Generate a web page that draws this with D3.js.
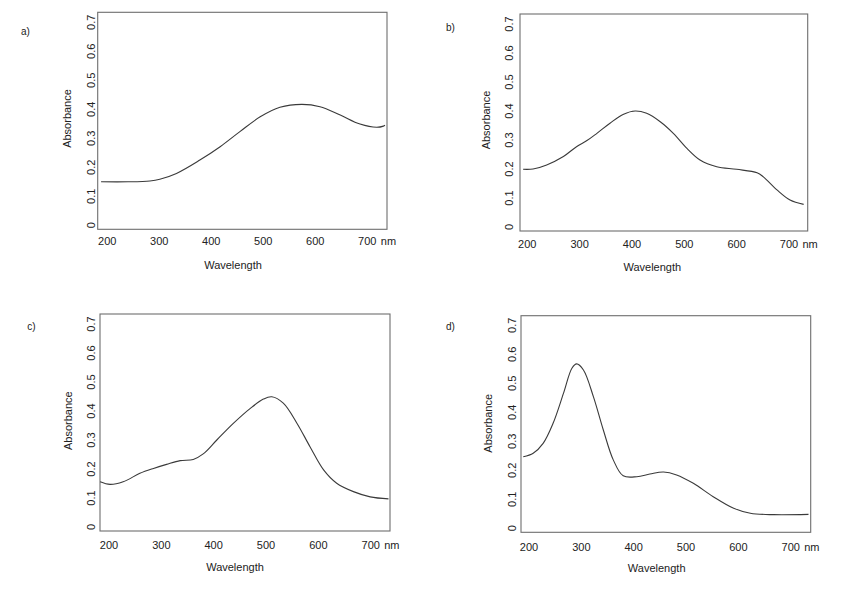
<!DOCTYPE html>
<html>
<head>
<meta charset="utf-8">
<script src="https://cdn.jsdelivr.net/npm/d3@7"></script>
<style>
  body { margin: 0; background: #fff; }
  text { font-family: "Liberation Sans", Arial, Helvetica, sans-serif; fill: #222; }
</style>
</head>
<body>
<svg id="chart" width="856" height="592"></svg>
<script>
// Tick labels
var xTicks = [200, 300, 400, 500, 600, 700];
var yTicks = [0, 0.1, 0.2, 0.3, 0.4, 0.5, 0.6, 0.7];
var panelNames = ["a)", "b)", "c)", "d)"];

// Spectra: wavelength (nm) and absorbance
var waveA = [188, 240, 282, 301, 333, 378, 417, 455, 494, 532, 574, 609, 648, 686, 718, 731, 734];
var absA  = [0.150, 0.150, 0.153, 0.159, 0.179, 0.225, 0.271, 0.323, 0.374, 0.407, 0.417, 0.409, 0.380, 0.349, 0.338, 0.342, 0.345];

var waveB = [192, 211, 237, 269, 294, 314, 333, 358, 384, 406, 428, 454, 479, 505, 530, 562, 600, 639, 651, 677, 702, 728];
var absB  = [0.199, 0.200, 0.214, 0.243, 0.277, 0.298, 0.323, 0.358, 0.389, 0.400, 0.392, 0.363, 0.323, 0.271, 0.231, 0.208, 0.199, 0.187, 0.173, 0.128, 0.093, 0.078];

var waveC = [183, 202, 227, 259, 285, 310, 336, 361, 380, 406, 438, 470, 495, 511, 533, 559, 584, 610, 635, 667, 699, 734];
var absC  = [0.156, 0.147, 0.156, 0.185, 0.202, 0.216, 0.229, 0.233, 0.252, 0.300, 0.358, 0.409, 0.441, 0.449, 0.427, 0.358, 0.277, 0.197, 0.151, 0.122, 0.104, 0.097];

var waveD = [189, 208, 227, 246, 266, 282, 291, 304, 323, 342, 361, 380, 406, 431, 457, 482, 514, 552, 591, 623, 667, 734];
var absD  = [0.247, 0.259, 0.293, 0.362, 0.466, 0.552, 0.567, 0.546, 0.454, 0.339, 0.236, 0.181, 0.178, 0.187, 0.194, 0.184, 0.155, 0.109, 0.069, 0.052, 0.047, 0.048];

var series = [[waveA, absA], [waveB, absB], [waveC, absC], [waveD, absD]];

// Where each panel sits on the page
var layout = [
    {box: [97.7, 12.3, 387, 229.3], x: [107.3, 367.3], y: [225.3, 22.3], yLab: 90.7, xLab: 241, absPos: [67, 118.5], wavePos: [233, 265], tag: [21, 31]},
    {box: [520, 14, 807.7, 231], x: [527.3, 789], y: [227, 24], yLab: 509.3, xLab: 244, absPos: [486, 120], wavePos: [652.3, 266.7], tag: [446, 27.5]},
    {box: [100, 314, 390, 531], x: [109, 370.7], y: [527, 324], yLab: 90.7, xLab: 545, absPos: [68.3, 420.7], wavePos: [235, 566.7], tag: [27.3, 326.7]},
    {box: [521, 315.7, 810.7, 532.3], x: [529, 790.7], y: [528.3, 325.3], yLab: 511.7, xLab: 547.3, absPos: [488.3, 423.3], wavePos: [656.7, 568.3], tag: [446, 326.7]}
];

var svg = d3.select("#chart");

function fmt(v) {
    return v === 0 ? "0" : d3.format(".1f")(v);
}

function drawPanel(i) {
    var L = layout[i];
    var x = d3.scaleLinear().domain([200, 700]).range(L.x);
    var y = d3.scaleLinear().domain([0, 0.7]).range(L.y);
    var g = svg.append("g");

    g.append("rect")
    .attr("x", L.box[0])
    .attr("y", L.box[1])
    .attr("width", L.box[2] - L.box[0])
    .attr("height", L.box[3] - L.box[1])
    .attr("fill", "none")
    .attr("stroke", "#6e6e6e")
    .attr("stroke-width", 1.1);

    var pts = d3.zip(series[i][0], series[i][1]);
    var line = d3.line()
    .x(function(d) { return x(d[0]); })
    .y(function(d) { return y(d[1]); })
    .curve(d3.curveCatmullRom.alpha(0.5));

    g.append("path")
    .attr("d", line(pts))
    .attr("fill", "none")
    .attr("stroke", "#3a3a3a")
    .attr("stroke-width", 1.1);

    // x tick labels, the last one gets its unit
    g.selectAll(".xt")
    .data(xTicks)
    .enter().append("text")
    .attr("class", "xt")
    .attr("x", function(d) { return x(d); })
    .attr("y", L.xLab)
    .attr("dy", "0.35em")
    .attr("text-anchor", "middle")
    .style("font-size", "11px")
    .text(function(d) { return d; });

    g.append("text")
    .attr("x", x(700) + 13.5)
    .attr("y", L.xLab)
    .attr("dy", "0.35em")
    .style("font-size", "11px")
    .text("nm");

    g.selectAll(".yt")
    .data(yTicks)
    .enter().append("text")
    .attr("class", "yt")
    .attr("transform", function(d) { return "translate(" + L.yLab + "," + y(d) + ") rotate(-90)"; })
    .attr("dy", "0.35em")
    .attr("text-anchor", "middle")
    .style("font-size", "11px")
    .text(fmt);

    g.append("text")
    .attr("transform", "translate(" + L.absPos[0] + "," + L.absPos[1] + ") rotate(-90)")
    .attr("dy", "0.35em")
    .attr("text-anchor", "middle")
    .style("font-size", "11px")
    .text("Absorbance");

    g.append("text")
    .attr("x", L.wavePos[0])
    .attr("y", L.wavePos[1])
    .attr("dy", "0.35em")
    .attr("text-anchor", "middle")
    .style("font-size", "11px")
    .text("Wavelength");

    g.append("text")
    .attr("x", L.tag[0])
    .attr("y", L.tag[1])
    .attr("dy", "0.35em")
    .style("font-size", "10px")
    .text(panelNames[i]);
}

for (var i = 0; i < 4; i++) {
    drawPanel(i);
}
</script>
</body>
</html>
